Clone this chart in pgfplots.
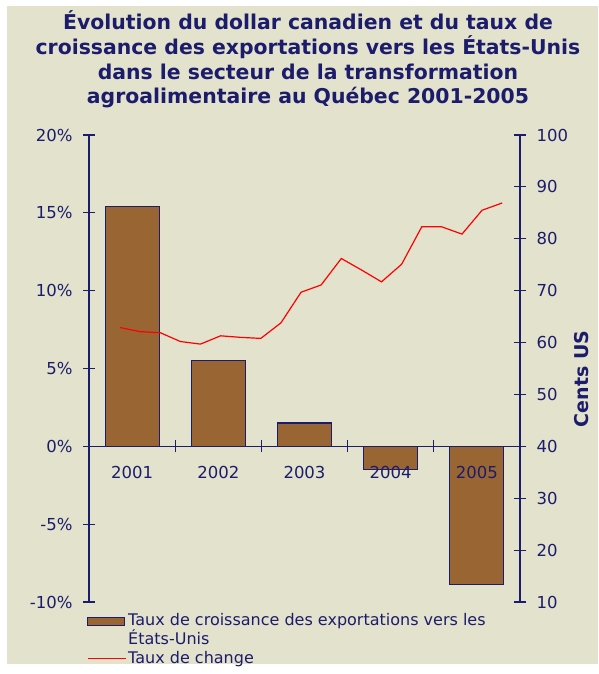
\documentclass[border=0pt]{standalone}
\usepackage{pgfplots}
\pgfplotsset{compat=1.18}
\usepackage{fontspec}
\setmainfont{DejaVu Sans}
\definecolor{bg}{RGB}{227,226,204}
\definecolor{navy}{RGB}{28,28,108}
\definecolor{brn}{RGB}{153,102,51}
\begin{document}
\begin{tikzpicture}[x=1pt,y=1pt]
\fill[white] (0,0) rectangle (598,674);
\useasboundingbox (0,0) rectangle (598,674);
\fill[bg] (7,10) rectangle (598,668);
\begin{scope}[every node/.style={anchor=base, text=navy, font=\fontsize{20.4}{24}\selectfont\bfseries, inner sep=0pt}]
\node at (308,644) {Évolution du dollar canadien et du taux de};
\node at (308,619) {croissance des exportations vers les États-Unis};
\node at (308,594.5) {dans le secteur de la transformation};
\node at (308,570) {agroalimentaire au Québec 2001-2005};
\end{scope}
\begin{axis}[
  at={(89pt,72pt)}, anchor=south west, scale only axis,
  width=431pt, height=467pt,
  xmin=-0.5, xmax=4.5, ymin=-10, ymax=20,
  axis on top,
  axis x line=middle, axis y line=left,
  axis line style={-, draw=navy, line width=1.2pt},
  hide obscured x ticks=false, hide obscured y ticks=false,
  xtick={-0.5,0.5,1.5,2.5,3.5,4.5},
  x tick label as interval,
  xticklabels={2001,2002,2003,2004,2005},
  ytick={-10,-5,0,5,10,15,20},
  yticklabel={\pgfmathprintnumber{\tick}\%},
  tick align=center, major tick length=12pt,
  tick style={draw=navy, line width=1.2pt},
  ticklabel style={font=\fontsize{16.5}{19}\selectfont, text=navy},
  xticklabel style={yshift=-10pt},
  yticklabel style={xshift=-7pt},
  /pgf/number format/assume math mode=true,
  clip=false,
]
\addplot[ybar, bar width=54pt, bar shift=0pt, fill=brn, draw=navy, line width=1.1pt]
  coordinates {(0,15.4) (1,5.5) (2,1.5) (3,-1.5) (4,-8.9)};
\end{axis}
\begin{axis}[
  at={(89pt,72pt)}, anchor=south west, scale only axis,
  width=431pt, height=467pt,
  xmin=-0.5, xmax=4.5, ymin=10, ymax=100,
  axis x line=none, axis y line=right,
  axis line style={-, draw=navy, line width=1.2pt},
  ytick={10,20,...,100},
  tick align=center, major tick length=12pt,
  tick style={draw=navy, line width=1.2pt},
  ticklabel style={font=\fontsize{16.5}{19}\selectfont, text=navy},
  yticklabel style={xshift=7pt},
  /pgf/number format/assume math mode=true,
  ylabel={Cents US},
  ylabel style={at={(axis description cs:1.144,0.4775)}, anchor=center, rotate=0,
    font=\fontsize{19}{22}\selectfont\bfseries, text=navy},
  clip=false,
  legend style={draw=none, fill=none, at={(axis description cs:-0.005,-0.02)}, anchor=north west,
    font=\fontsize{16}{17}\selectfont, text=navy, cells={align=left}, inner sep=0pt,
    row sep=1pt},
  legend cell align=left,
]
\addlegendimage{legend image code/.code={\draw[fill=brn, draw=navy, line width=1.1pt] (0pt,4.5pt) rectangle (37pt,12.5pt);}}
\addlegendentry{Taux de croissance des exportations vers les\\États-Unis}
\addplot[red, line width=1.2pt, legend image code/.code={\draw[red, line width=1.2pt] (0pt,0pt) -- (38pt,0pt);}] coordinates {
(-0.140,62.9) (0.093,62.1) (0.327,61.9) (0.560,60.2) (0.793,59.7)
(1.027,61.3) (1.260,61.0) (1.493,60.8) (1.727,63.8) (1.960,69.7)
(2.193,71.1) (2.427,76.2) (2.660,74.0) (2.893,71.7) (3.127,75.1)
(3.360,82.3) (3.593,82.3) (3.827,80.9) (4.060,85.5) (4.293,86.9)};
\addlegendentry{Taux de change}
\end{axis}
\end{tikzpicture}
\end{document}
